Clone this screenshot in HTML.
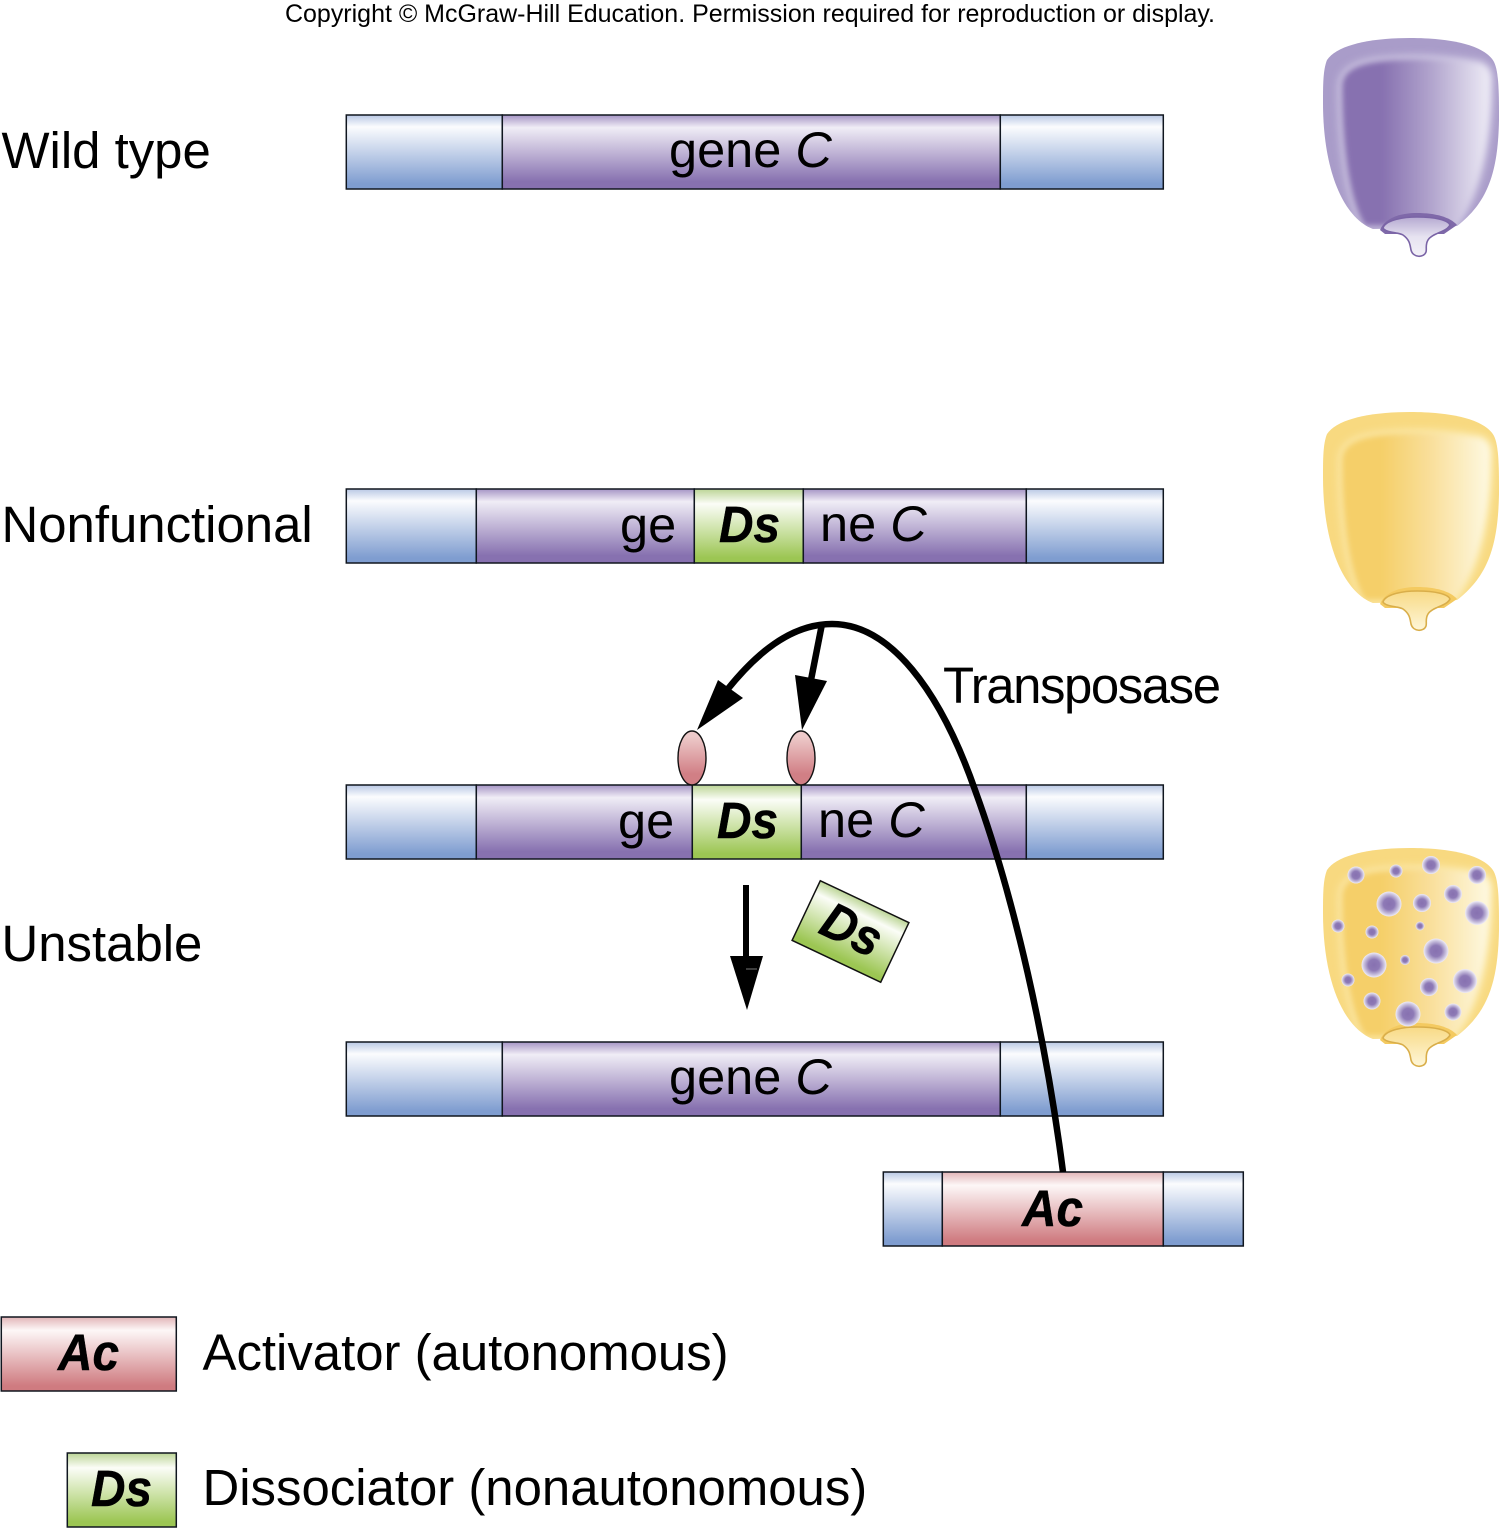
<!DOCTYPE html>
<html><head><meta charset="utf-8"><style>
html,body{margin:0;padding:0;background:#fff}
svg{display:block}
text{font-family:"Liberation Sans",sans-serif;fill:#000}
.l{font-size:50.9px}
.g{font-size:50.5px}
.b{font-size:51px;font-weight:bold;font-style:italic;stroke:#000;stroke-width:.5px}
.i{font-style:italic}
.bars rect{stroke:#10161f;stroke-width:1.5}
</style></head><body>
<svg width="1500" height="1528" viewBox="0 0 1500 1528" xmlns="http://www.w3.org/2000/svg">
<defs>
<linearGradient id="bl" x1="0" y1="0" x2="0" y2="1"><stop offset="0" stop-color="#b9c8e5"/><stop offset=".16" stop-color="#fbfcfe"/><stop offset=".93" stop-color="#7f9dd0"/></linearGradient>
<linearGradient id="pu" x1="0" y1="0" x2="0" y2="1"><stop offset="0" stop-color="#a595c5"/><stop offset=".17" stop-color="#f0edf6"/><stop offset=".9" stop-color="#8771b0"/></linearGradient>
<linearGradient id="gr" x1="0" y1="0" x2="0" y2="1"><stop offset="0" stop-color="#bcd596"/><stop offset=".2" stop-color="#fbfdf7"/><stop offset=".93" stop-color="#9cc653"/></linearGradient>
<linearGradient id="re" x1="0" y1="0" x2="0" y2="1"><stop offset="0" stop-color="#e2b4b7"/><stop offset=".18" stop-color="#fdf7f7"/><stop offset=".93" stop-color="#cf7b80"/></linearGradient>
<linearGradient id="ov" x1="0" y1="0" x2="0" y2="1"><stop offset=".1" stop-color="#edcaca"/><stop offset=".8" stop-color="#d17f85"/></linearGradient>
<linearGradient id="kp" x1="0" y1="0" x2="1" y2="0"><stop offset=".27" stop-color="#8771b0"/><stop offset=".6" stop-color="#b1a4cd"/><stop offset="1" stop-color="#eeecf6"/></linearGradient>
<linearGradient id="ky" x1="0" y1="0" x2="1" y2="0"><stop offset=".27" stop-color="#f5cf69"/><stop offset=".6" stop-color="#f9df9b"/><stop offset="1" stop-color="#fef9e2"/></linearGradient>
<linearGradient id="cp" x1="0" y1="0" x2="0" y2="1"><stop offset="0" stop-color="#b5a9d1"/><stop offset=".5" stop-color="#e6e2f0"/><stop offset="1" stop-color="#f3f1f8"/></linearGradient>
<linearGradient id="cy" x1="0" y1="0" x2="0" y2="1"><stop offset="0" stop-color="#f8da86"/><stop offset="1" stop-color="#fef6d8"/></linearGradient>
<radialGradient id="sp"><stop offset="0" stop-color="#8771b0"/><stop offset=".45" stop-color="#8e7ab6"/><stop offset=".8" stop-color="#c9c1de"/><stop offset="1" stop-color="#f0edf6"/></radialGradient>
<filter id="bl1" x="-10%" y="-10%" width="120%" height="120%"><feGaussianBlur stdDeviation="4"/></filter>
<filter id="bl2" x="-10%" y="-10%" width="120%" height="120%"><feGaussianBlur stdDeviation="3"/></filter>
<path id="body" d="M1410 38C1450 38 1485 45 1494 62C1499 72 1499 95 1499 120C1498 172 1488 202 1457 226L1373 229C1342 217 1323 168 1323 103C1323 85 1323 70 1327 60C1337 45 1370 38 1410 38Z"/>
<path id="inner" d="M1342 87C1342 72 1355 65 1375 62C1410 57 1450 59 1480 64C1488 67 1491 73 1490 85C1490 130 1482 192 1453 226L1365 226C1350 202 1342 150 1342 87Z"/>
<path id="cap" d="M1383 228C1385 221 1400 217 1417 217C1435 217 1448 220 1450 225C1447 232 1432 233 1428 240C1425 245 1427 249 1426 252C1424 258 1413 258 1411 250C1410 245 1410 240 1403 235C1398 232 1386 233 1383 228Z"/>
<clipPath id="kc"><use href="#body"/></clipPath>
</defs>

<text x="750" y="22" text-anchor="middle" style="font-size:25.2px" textLength="930" lengthAdjust="spacingAndGlyphs" fill="#222">Copyright © McGraw-Hill Education. Permission required for reproduction or display.</text>

<text class="l" x="1.500" y="168">Wild type</text>
<text class="l" x="1.500" y="542">Nonfunctional</text>
<text class="l" x="1.500" y="961">Unstable</text>

<g class="bars" transform="translate(-.2 -.5)">
<rect x="346.500" y="115.500" width="156" height="74" fill="url(#bl)"/>
<rect x="502.500" y="115.500" width="498" height="74" fill="url(#pu)"/>
<rect x="1000.500" y="115.500" width="163" height="74" fill="url(#bl)"/>
<rect x="346.500" y="489.500" width="130" height="74" fill="url(#bl)"/>
<rect x="476.500" y="489.500" width="218" height="74" fill="url(#pu)"/>
<rect x="694.500" y="489.500" width="109" height="74" fill="url(#gr)"/>
<rect x="803.500" y="489.500" width="223" height="74" fill="url(#pu)"/>
<rect x="1026.500" y="489.500" width="137" height="74" fill="url(#bl)"/>
<rect x="346.500" y="785.500" width="130" height="74" fill="url(#bl)"/>
<rect x="476.500" y="785.500" width="216" height="74" fill="url(#pu)"/>
<rect x="692.500" y="785.500" width="109" height="74" fill="url(#gr)"/>
<rect x="801.500" y="785.500" width="225" height="74" fill="url(#pu)"/>
<rect x="1026.500" y="785.500" width="137" height="74" fill="url(#bl)"/>
<rect x="346.500" y="1042.500" width="156" height="74" fill="url(#bl)"/>
<rect x="502.500" y="1042.500" width="498" height="74" fill="url(#pu)"/>
<rect x="1000.500" y="1042.500" width="163" height="74" fill="url(#bl)"/>
<rect x="883.500" y="1172.500" width="59" height="74" fill="url(#bl)"/>
<rect x="942.500" y="1172.500" width="221" height="74" fill="url(#re)"/>
<rect x="1163.500" y="1172.500" width="80" height="74" fill="url(#bl)"/>
<rect x="1.500" y="1317.500" width="175" height="74" fill="url(#re)"/>
<rect x="67.500" y="1453.500" width="109" height="74" fill="url(#gr)"/>
</g>

<text class="g" x="669" y="167">gene <tspan class="i">C</tspan></text>
<text class="g" x="620" y="542">ge</text>
<text class="b" x="719" y="542" textLength="61" lengthAdjust="spacingAndGlyphs">Ds</text>
<text class="g" x="820" y="541">ne <tspan class="i">C</tspan></text>
<text class="g" x="618" y="838">ge</text>
<text class="b" x="717" y="838" textLength="61" lengthAdjust="spacingAndGlyphs">Ds</text>
<text class="g" x="818" y="837">ne <tspan class="i">C</tspan></text>
<text class="g" x="669" y="1094">gene <tspan class="i">C</tspan></text>
<text class="b" x="1022" y="1226" textLength="61" lengthAdjust="spacingAndGlyphs">Ac</text>

<ellipse cx="692" cy="758" rx="14" ry="27" fill="url(#ov)" stroke="#111" stroke-width="1.4"/>
<ellipse cx="801" cy="758" rx="14" ry="27" fill="url(#ov)" stroke="#111" stroke-width="1.4"/>

<path d="M1063 1172C1046 1040 1015 900 975 790C940 690 890 624 832 624C790 624 755 655 727 690" fill="none" stroke="#000" stroke-width="6.500"/>
<path d="M822 624L810 685" fill="none" stroke="#000" stroke-width="6.500"/>
<polygon points="697,730 718,680 743,698" fill="#000"/>
<polygon points="802,730 795,675 827,681" fill="#000"/>
<text class="l" x="943" y="703" textLength="278" lengthAdjust="spacing">Transposase</text>

<rect x="743" y="885" width="6" height="75" fill="#000"/>
<polygon points="730,956 763,956 747,1010" fill="#000"/>
<rect x="746" y="968.500" width="11" height="1" fill="#777"/>

<g transform="translate(850.500 931.500) rotate(25.300)">
<rect x="-49" y="-33" width="98" height="66" fill="url(#gr)" stroke="#111" stroke-width="1.500"/>
<text class="b" x="-30" y="15" textLength="61" lengthAdjust="spacingAndGlyphs">Ds</text>
</g>

<text class="b" x="58" y="1370" textLength="61" lengthAdjust="spacingAndGlyphs">Ac</text>
<text class="l" x="202.500" y="1370">Activator (autonomous)</text>
<text class="b" x="91" y="1506" textLength="61" lengthAdjust="spacingAndGlyphs">Ds</text>
<text class="l" x="202.500" y="1505">Dissociator (nonautonomous)</text>

<!-- purple kernel -->
<g>
<use href="#body" fill="#a99cc9"/>
<g clip-path="url(#kc)">
<use href="#inner" fill="#cfc8e3" stroke="#cfc8e3" stroke-width="8" filter="url(#bl1)"/>
<use href="#inner" fill="url(#kp)" filter="url(#bl2)"/>
</g>
<path d="M1380 230C1385 218 1400 213 1417 213C1435 213 1450 217 1457 225L1444 234L1385 234Z" fill="#7f69a9"/>
<use href="#cap" fill="url(#cp)" stroke="#7a64a6" stroke-width="1.600"/>
</g>

<!-- yellow kernel -->
<g transform="translate(0 374)">
<use href="#body" fill="#f8d980"/>
<g clip-path="url(#kc)">
<use href="#inner" fill="#fbe8a8" stroke="#fbe8a8" stroke-width="8" filter="url(#bl1)"/>
<use href="#inner" fill="url(#ky)" filter="url(#bl2)"/>
</g>
<path d="M1380 230C1385 218 1400 213 1417 213C1435 213 1450 217 1457 225L1444 234L1385 234Z" fill="#f4ca60"/>
<use href="#cap" fill="url(#cy)" stroke="#d9ae4a" stroke-width="1.600"/>
</g>

<!-- spotted kernel -->
<g transform="translate(0 810)">
<use href="#body" fill="#f8d980"/>
<g clip-path="url(#kc)">
<use href="#inner" fill="#fbe8a8" stroke="#fbe8a8" stroke-width="8" filter="url(#bl1)"/>
<use href="#inner" fill="url(#ky)" filter="url(#bl2)"/>
</g>
<path d="M1380 230C1385 218 1400 213 1417 213C1435 213 1450 217 1457 225L1444 234L1385 234Z" fill="#f4ca60"/>
<use href="#cap" fill="url(#cy)" stroke="#d9ae4a" stroke-width="1.600"/>
</g>
<g fill="url(#sp)">
<circle cx="1356" cy="875" r="8.500"/><circle cx="1396" cy="871" r="6.500"/><circle cx="1431" cy="865" r="9"/><circle cx="1477" cy="875" r="9"/>
<circle cx="1453" cy="894" r="9"/><circle cx="1389" cy="904" r="12.500"/><circle cx="1422" cy="903" r="9"/><circle cx="1477" cy="913" r="12"/>
<circle cx="1338" cy="926" r="6.500"/><circle cx="1372" cy="932" r="6.500"/><circle cx="1420" cy="926" r="4.500"/><circle cx="1436" cy="951" r="12.500"/>
<circle cx="1374" cy="965" r="12.500"/><circle cx="1405" cy="960" r="5"/><circle cx="1348" cy="980" r="6.500"/><circle cx="1429" cy="987" r="9"/>
<circle cx="1465" cy="981" r="12"/><circle cx="1372" cy="1001" r="8.500"/><circle cx="1408" cy="1014" r="12.500"/><circle cx="1453" cy="1012" r="8.500"/>
</g>
</svg>
</body></html>
